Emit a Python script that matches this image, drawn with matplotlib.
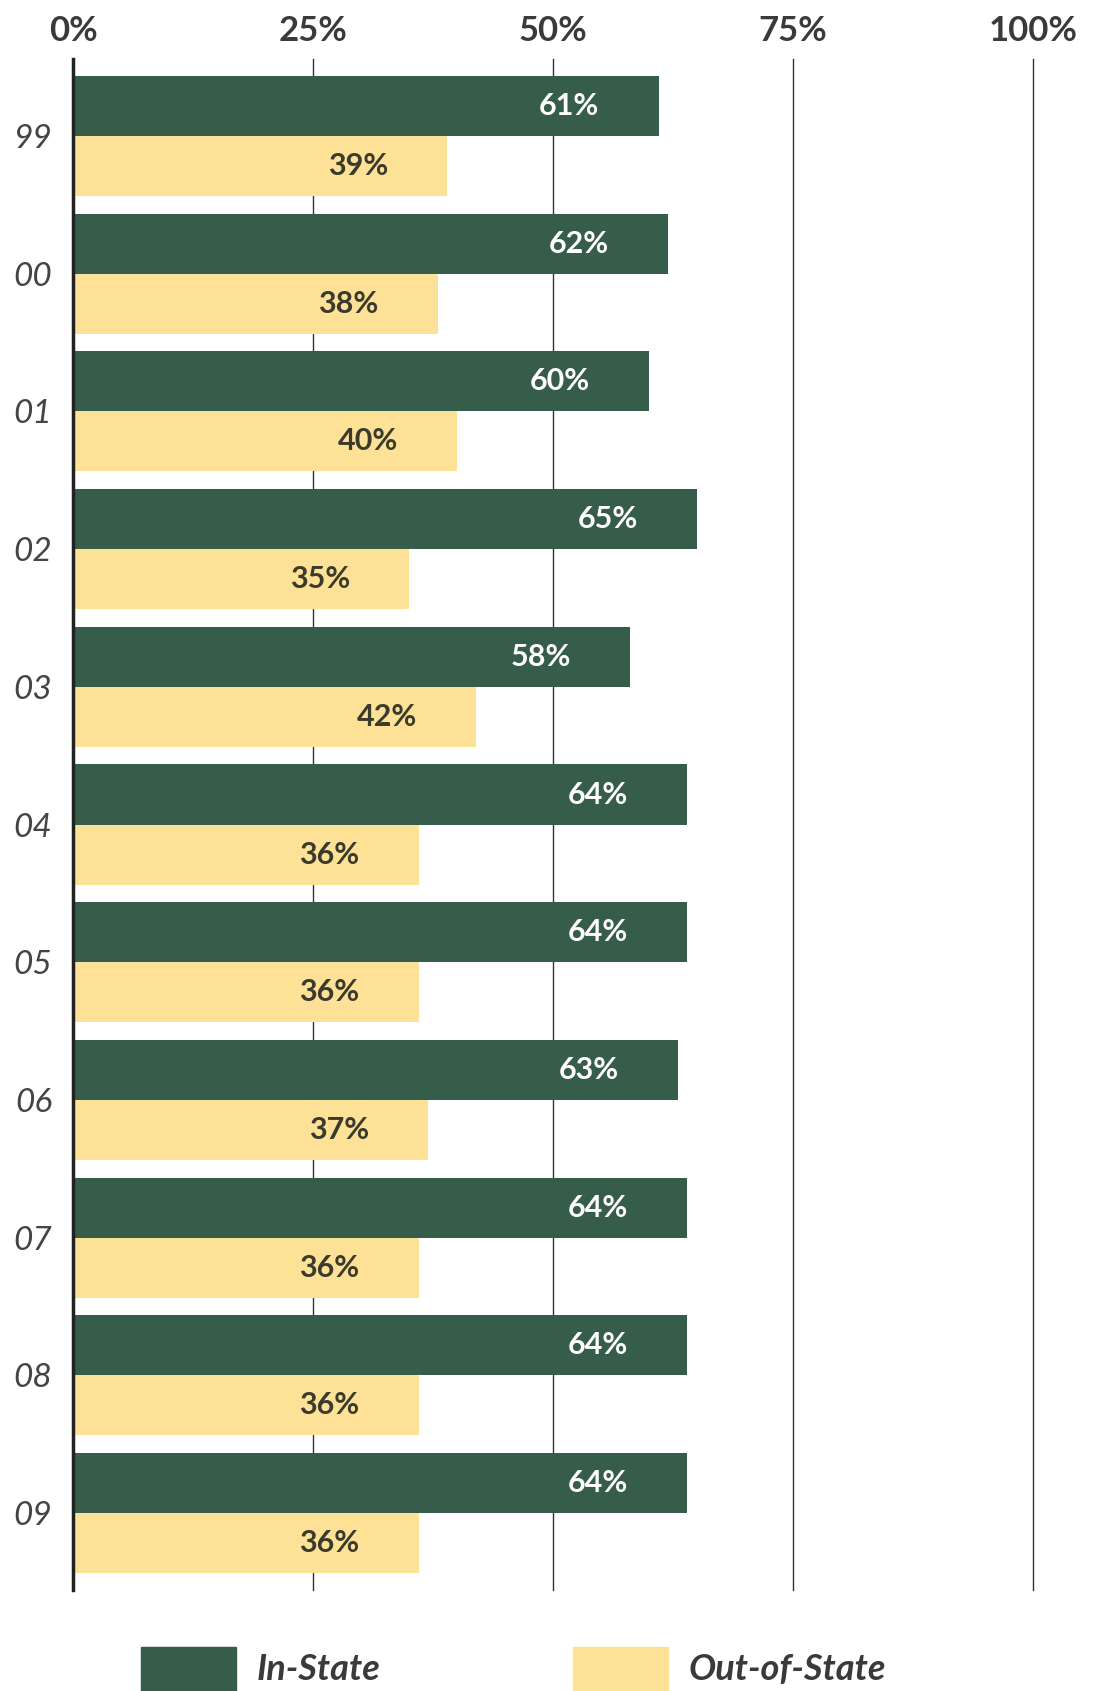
import matplotlib.pyplot as plt
from matplotlib.patches import Rectangle

# Data
years = ['99', '00', '01', '02', '03', '04', '05', '06', '07', '08', '09']
in_state = [61, 62, 60, 65, 58, 64, 64, 63, 64, 64, 64]
out_state = [39, 38, 40, 35, 42, 36, 36, 37, 36, 36, 36]
ticks = [0, 25, 50, 75, 100]
tick_labels = ['0%', '25%', '50%', '75%', '100%']

green = '#365c4a'
yellow = '#fde196'
text_grey = '#3a3a3a'

plt.rcParams['font.family'] = ['Lato', 'DejaVu Sans']

fig = plt.figure(figsize=(10.95, 16.91), dpi=100)
ax = fig.add_axes([0.0667, 0.0597, 0.8767, 0.9054])

h = 0.436
pos = list(range(len(years)))
ax.barh([p - h / 2 for p in pos], in_state, height=h, color=green, zorder=2)
ax.barh([p + h / 2 for p in pos], out_state, height=h, color=yellow, zorder=2)

for p, v in zip(pos, in_state):
    ax.text(v - 9.3, p - h / 2, f'{v}%', ha='center', va='center',
            color='white', fontsize=22, fontweight='bold', zorder=3)
for p, v in zip(pos, out_state):
    ax.text(v - 9.3, p + h / 2, f'{v}%', ha='center', va='center',
            color='#3b3a2c', fontsize=22, fontweight='bold', zorder=3)

ax.set_xlim(0, 100)
ax.set_ylim(len(years) - 1 + 0.559, -0.559)

ax.xaxis.tick_top()
ax.set_xticks(ticks)
ax.set_xticklabels(tick_labels, fontsize=25, fontweight='bold', color=text_grey)
ax.tick_params(axis='x', length=0, pad=9)

ax.set_yticks(pos)
ax.set_yticklabels(years, fontsize=24, fontstyle='italic', fontweight='normal', color='#444444')
ax.tick_params(axis='y', length=0, pad=15)

ax.grid(axis='x', color='#333333', linewidth=1.0)
for gl in ax.get_xgridlines():
    gl.set_clip_on(False)
ax.set_axisbelow(True)
for s in ['top', 'right', 'bottom']:
    ax.spines[s].set_visible(False)
ax.spines['left'].set_color('#222222')
ax.spines['left'].set_linewidth(2.5)
ax.spines['left'].set_zorder(4)

# legend along the bottom edge
W, H = 1095, 1691
for x0, col, lab in [(141, green, 'In-State'), (573, yellow, 'Out-of-State')]:
    fig.patches.append(Rectangle((x0 / W, 0), 95 / W, (H - 1647) / H,
                                 transform=fig.transFigure, color=col))
    fig.text((x0 + 116) / W, (H - 1670) / H, lab, fontsize=26, fontweight='bold',
             fontstyle='italic', color=text_grey, va='center', ha='left')

fig.savefig('out.png', dpi=100)
